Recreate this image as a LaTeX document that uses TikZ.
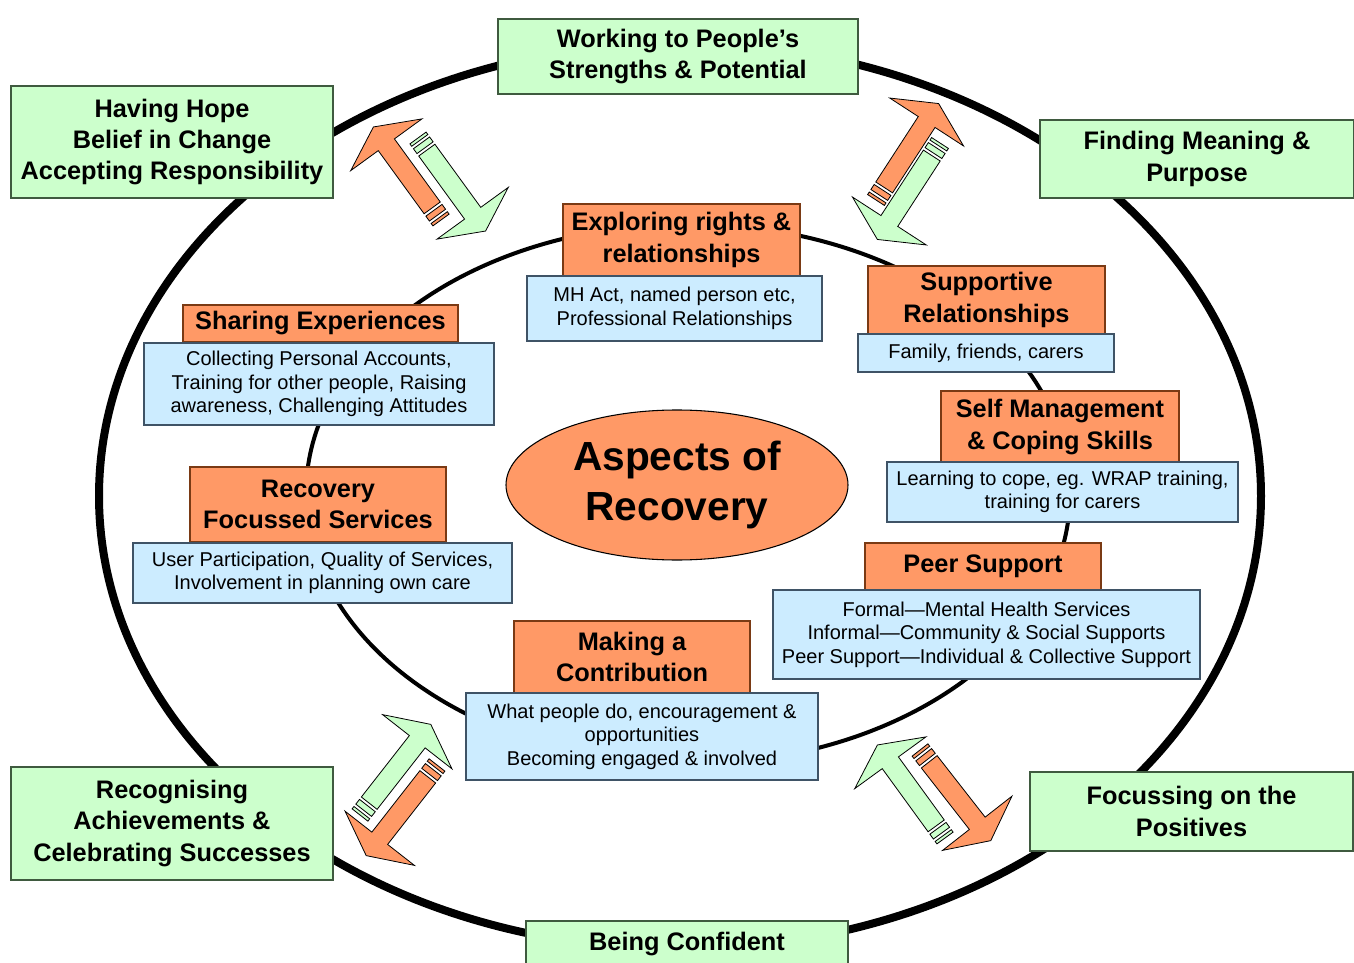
\documentclass[tikz,border=0pt]{standalone}
\usepackage{fontspec}
\setmainfont{Liberation Sans}
\usetikzlibrary{shapes.geometric}
\definecolor{peach}{HTML}{FF9966}
\definecolor{mint}{HTML}{CCFFCC}
\definecolor{sky}{HTML}{CCECFF}
\definecolor{peachline}{HTML}{7A3A14}
\definecolor{mintline}{HTML}{3F5A3F}
\definecolor{skyline}{HTML}{3F5366}

% striped block arrow: tail point, angle, fill colour
\newcommand\stripedarrow[3]{%
  \begin{scope}[shift={(#1)}, rotate=#2]
    \filldraw[fill=#3, line width=0.6pt] (0,-10) rectangle (3,10);
    \filldraw[fill=#3, line width=0.6pt] (6,-10) rectangle (12,10);
    \filldraw[fill=#3, line width=0.6pt] (15,-10) -- (93,-10) -- (93,-44) -- (115,0)
      -- (93,44) -- (93,10) -- (15,10) -- cycle;
  \end{scope}}

\begin{document}
\begin{tikzpicture}[x=0.75pt, y=-0.75pt,
    size/.style 2 args={minimum width=#1*0.75pt, minimum height=#2*0.75pt},
    goal/.style={draw=mintline, fill=mint, line width=1pt, inner sep=0pt, align=center,
      font=\fontsize{19}{23.5}\selectfont\bfseries},
    topic/.style={draw=peachline, fill=peach, line width=1pt, inner sep=0pt, align=center,
      font=\fontsize{19}{23.5}\selectfont\bfseries},
    detail/.style={draw=skyline, fill=sky, line width=1pt, inner sep=0pt, align=center,
      font=\fontsize{15}{17.6}\selectfont}]
    \useasboundingbox (0,0) rectangle (1354,963);

    % the two rings
    \draw[line width=6pt] (680,496) ellipse [x radius=581, y radius=453];
    \draw[line width=3pt] (688,494) ellipse [x radius=382, y radius=270];

    % centre
    \node[ellipse, draw, fill=peach, line width=0.8pt, inner sep=0pt, size={342}{150}, align=center,
      font=\fontsize{30.5}{38}\selectfont\bfseries] (aspects) at (677,485) {Aspects of\\Recovery};

    % arrow pairs
    \stripedarrow{441,220}{126}{peach}
    \stripedarrow{418,138}{-54}{mint}
    \stripedarrow{876,200}{57}{peach}
    \stripedarrow{940,143}{237}{mint}
    \stripedarrow{360,815}{52}{mint}
    \stripedarrow{437,765}{232}{peach}
    \stripedarrow{945,838}{126}{mint}
    \stripedarrow{920,750}{-52}{peach}

    % outer ring
    \node[goal, size={360}{75}] (strengths) at (678,56.5) {Working to People’s\\Strengths \& Potential};
    \node[goal, size={322}{112}] (hope) at (172,142) {Having Hope\\Belief in Change\\Accepting Responsibility};
    \node[goal, size={314}{78}] (meaning) at (1197,159) {Finding Meaning \&\\Purpose};
    \node[goal, size={322}{113}] (achieve) at (172,823.5) {Recognising\\Achievements \&\\Celebrating Successes};
    \node[goal, size={323}{79}] (positives) at (1191.5,811.5) {Focussing on the\\Positives};
    \node[goal, size={322}{46}] (confident) at (687,944) {Being Confident};

    % inner ring
    \node[topic, size={237}{72}] (rights) at (681.5,240) {Exploring rights \&\\relationships};
    \node[detail, size={295}{65}] (mhact) at (674.5,308.5) {MH Act, named person etc,\\Professional Relationships};
    \node[topic, size={275}{37}] (sharing) at (320.5,323.5) {Sharing Experiences};
    \node[detail, size={350}{82}] (accounts) at (319,384) {Collecting Personal Accounts,\\Training for other people, Raising\\awareness, Challenging Attitudes};
    \node[topic, size={237}{68}] (supportive) at (986.5,300) {Supportive\\Relationships};
    \node[detail, size={256}{38}] (family) at (986,353) {Family, friends, carers};
    \node[topic, size={238}{72}] (selfman) at (1060,427) {Self Management\\\& Coping Skills};
    \node[detail, size={351}{60}] (coping) at (1062.5,492) {Learning to cope, eg. WRAP training,\\training for carers};
    \node[topic, size={256}{75}] (services) at (318,504.5) {Recovery\\Focussed Services};
    \node[detail, size={379}{60}] (participation) at (322.5,573) {User Participation, Quality of Services,\\Involvement in planning own care};
    \node[topic, size={236}{47}] (peer) at (983,566.5) {Peer Support};
    \node[detail, size={427}{89}] (formal) at (986.5,634.5) {Formal—Mental Health Services\\Informal—Community \& Social Supports\\Peer Support—Individual \& Collective Support};
    \node[topic, size={236}{72}] (contribution) at (632,657) {Making a\\Contribution};
    \node[detail, size={352}{87}] (whatdo) at (642,736.5) {What people do, encouragement \&\\opportunities\\Becoming engaged \& involved};
\end{tikzpicture}
\end{document}
